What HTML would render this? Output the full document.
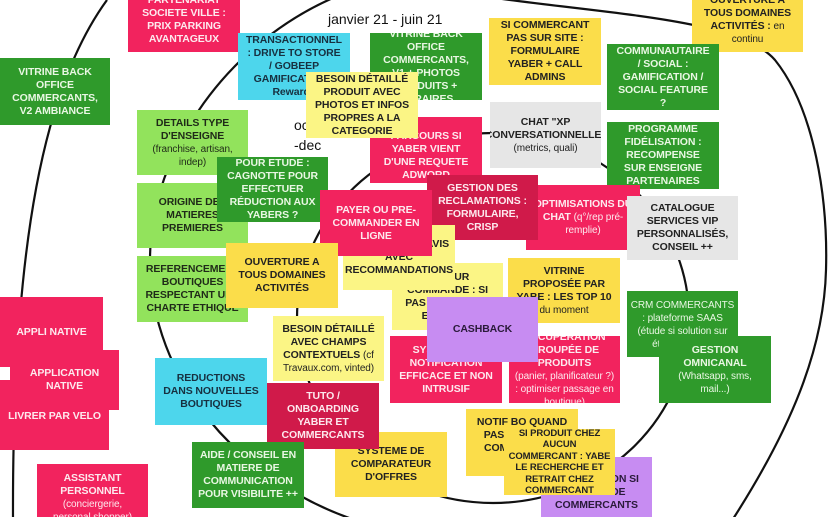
<!DOCTYPE html>
<html><head><meta charset="utf-8"><style>
body{margin:0;width:837px;height:517px;overflow:hidden;background:#fff;position:relative;font-family:"Liberation Sans",sans-serif}
.n{position:absolute;display:flex;align-items:center;justify-content:center;text-align:center;font-size:10.5px;line-height:13px;letter-spacing:-0.1px;font-weight:bold;box-sizing:border-box;padding:2px 7px;overflow:hidden}
.pk{background:#f2235e;color:#fde9ee}
.dr{background:#d01a4a;color:#fde9ee}
.gr{background:#2f9a2b;color:#e9f7e3}
.lg{background:#92e35c;color:#1f2a18}
.ye{background:#fbdd4a;color:#222}
.py{background:#fbf585;color:#222}
.cy{background:#4dd6ec;color:#173040}
.gy{background:#e6e6e6;color:#222}
.pu{background:#c78cf2;color:#2a1a3a}
.s{font-weight:normal;font-size:10px}
</style></head><body>
<svg width="837" height="517" style="position:absolute;left:0;top:0">
<g fill="none" stroke="#111" stroke-width="2.2">
<path d="M107,0 C45,85 12,240 13,520"/>
<path d="M352,519 C240,480 150,380 150,260 C150,150 230,40 340,-5"/>
<path d="M495,-2 C620,15 740,20 775,60 C815,110 828,200 826,270 C824,350 790,430 733,519"/>
<ellipse cx="493" cy="318" rx="196" ry="185"/>
</g>
</svg>
<div style="position:absolute;left:328px;top:11px;font-size:14px;color:#111">janvier 21 - juin 21</div>
<div style="position:absolute;left:294px;top:115px;font-size:14px;line-height:20px;color:#111">oc<br>-dec</div>

<div class="n pk" style="left:128px;top:-12px;width:112px;height:64px">PARTENARIAT<br>SOCIETE VILLE : PRIX PARKING AVANTAGEUX</div>
<div class="n gr" style="left:0;top:58px;width:110px;height:67px">VITRINE BACK OFFICE COMMERCANTS, V2 AMBIANCE</div>
<div class="n cy" style="left:238px;top:33px;width:112px;height:67px">TRANSACTIONNEL : DRIVE TO STORE / GOBEEP GAMIFICATION / Rewards</div>
<div class="n gr" style="left:370px;top:33px;width:112px;height:67px">VITRINE BACK OFFICE COMMERCANTS, V1 + PHOTOS PRODUITS + HORAIRES</div>
<div class="n pk" style="left:370px;top:117px;width:112px;height:66px;padding-top:14px">PARCOURS SI YABER VIENT D'UNE REQUETE ADWORD</div>
<div class="n py" style="left:306px;top:72px;width:112px;height:66px">BESOIN DÉTAILLÉ PRODUIT AVEC PHOTOS ET INFOS PROPRES A LA CATEGORIE</div>
<div class="n ye" style="left:489px;top:18px;width:112px;height:67px">SI COMMERCANT PAS SUR SITE : FORMULAIRE YABER + CALL ADMINS</div>
<div class="n ye" style="left:692px;top:-12px;width:111px;height:64px"><span>OUVERTURE A TOUS DOMAINES ACTIVITÉS : <span class="s">en continu</span></span></div>
<div class="n gr" style="left:607px;top:44px;width:112px;height:66px">COMMUNAUTAIRE / SOCIAL : GAMIFICATION / SOCIAL FEATURE ?</div>
<div class="n gy" style="left:490px;top:102px;width:111px;height:66px;padding:2px 3px"><span>CHAT "XP CONVERSATIONNELLE"<br><span class="s">(metrics, quali)</span></span></div>
<div class="n gr" style="left:607px;top:122px;width:112px;height:67px">PROGRAMME FIDÉLISATION : RECOMPENSE SUR ENSEIGNE PARTENAIRES</div>
<div class="n lg" style="left:137px;top:110px;width:111px;height:65px;padding:2px 4px"><span>DETAILS TYPE D'ENSEIGNE<br><span class="s">(franchise, artisan, indep)</span></span></div>
<div class="n lg" style="left:137px;top:183px;width:111px;height:65px">ORIGINE DES MATIERES PREMIERES</div>
<div class="n gr" style="left:217px;top:157px;width:111px;height:65px">POUR ETUDE : CAGNOTTE POUR EFFECTUER RÉDUCTION AUX YABERS ?</div>
<div class="n pk" style="left:526px;top:185px;width:114px;height:65px"><span>OPTIMISATIONS DU CHAT <span class="s">(q°/rep pré-remplie)</span></span></div>
<div class="n dr" style="left:427px;top:175px;width:111px;height:65px">GESTION DES RECLAMATIONS : FORMULAIRE, CRISP</div>
<div class="n gy" style="left:627px;top:196px;width:111px;height:64px">CATALOGUE SERVICES VIP PERSONNALISÉS, CONSEIL ++</div>
<div class="n lg" style="left:137px;top:256px;width:111px;height:66px;padding:2px 4px">REFERENCEMENT BOUTIQUES RESPECTANT UNE CHARTE ETHIQUE</div>
<div class="n py" style="left:392px;top:263px;width:111px;height:67px">RETOUR COMMANDE : SI PAS SATISFAIT ? ECHANGE</div>
<div class="n py" style="left:343px;top:225px;width:112px;height:65px;padding:2px 3px">AVIS PRODUIT, AVIS AVEC RECOMMANDATIONS</div>
<div class="n pk" style="left:320px;top:190px;width:112px;height:66px">PAYER OU PRE-COMMANDER EN LIGNE</div>
<div class="n ye" style="left:226px;top:243px;width:112px;height:65px">OUVERTURE A TOUS DOMAINES ACTIVITÉS</div>
<div class="n ye" style="left:508px;top:258px;width:112px;height:65px"><span>VITRINE PROPOSÉE PAR YABE : LES TOP 10 <span class="s">du moment</span></span></div>
<div class="n pk" style="left:390px;top:336px;width:112px;height:67px">SYSTEME DE NOTIFICATION EFFICACE ET NON INTRUSIF</div>
<div class="n pk" style="left:509px;top:336px;width:111px;height:67px;padding:2px 4px"><span>RÉCUPÉRATION GROUPÉE DE PRODUITS<br><span class="s">(panier, planificateur ?) : optimiser passage en boutique)</span></span></div>
<div class="n pu" style="left:427px;top:297px;width:111px;height:65px">CASHBACK</div>
<div class="n py" style="left:273px;top:316px;width:111px;height:65px;padding:2px 4px"><span>BESOIN DÉTAILLÉ AVEC CHAMPS CONTEXTUELS <span class="s">(cf Travaux.com, vinted)</span></span></div>
<div class="n gr" style="left:627px;top:291px;width:111px;height:66px;align-items:flex-start;padding:8px 3px 2px"><span class="s">CRM COMMERCANTS : plateforme SAAS (étude si solution sur étagère ou ...)</span></div>
<div class="n gr" style="left:659px;top:336px;width:112px;height:67px"><span>GESTION OMNICANAL<br><span class="s">(Whatsapp, sms, mail...)</span></span></div>
<div class="n cy" style="left:155px;top:358px;width:112px;height:67px">REDUCTIONS DANS NOUVELLES BOUTIQUES</div>
<div class="n ye" style="left:335px;top:432px;width:112px;height:65px">SYSTEME DE COMPARATEUR D'OFFRES</div>
<div class="n dr" style="left:267px;top:383px;width:112px;height:66px">TUTO / ONBOARDING YABER ET COMMERCANTS</div>
<div class="n gr" style="left:192px;top:442px;width:112px;height:66px;padding:2px 4px">AIDE / CONSEIL EN MATIERE DE COMMUNICATION POUR VISIBILITE ++</div>
<div class="n ye" style="left:466px;top:409px;width:112px;height:67px;align-items:flex-start;padding-top:7px">NOTIF BO QUAND PAS DE STOCK COMMERCANT</div>
<div class="n pu" style="left:541px;top:457px;width:111px;height:60px;align-items:flex-end;padding-bottom:5px">INFORMATION SI LISTING DE COMMERCANTS</div>
<div class="n ye" style="left:504px;top:429px;width:111px;height:66px;font-size:9.5px;line-height:11.5px;padding:2px 4px">SI PRODUIT CHEZ AUCUN COMMERCANT : YABE LE RECHERCHE ET RETRAIT CHEZ COMMERCANT</div>
<div class="n pk" style="left:0;top:380px;width:109px;height:70px;align-items:flex-start;padding-top:30px">LIVRER PAR VELO</div>
<div class="n pk" style="left:0;top:297px;width:103px;height:70px">APPLI NATIVE</div>
<div class="n pk" style="left:10px;top:350px;width:109px;height:60px">APPLICATION NATIVE</div>
<div class="n pk" style="left:37px;top:464px;width:111px;height:53px;align-items:flex-start;padding-top:8px"><span>ASSISTANT PERSONNEL<br><span class="s">(conciergerie, personal shopper)</span></span></div>
</body></html>
